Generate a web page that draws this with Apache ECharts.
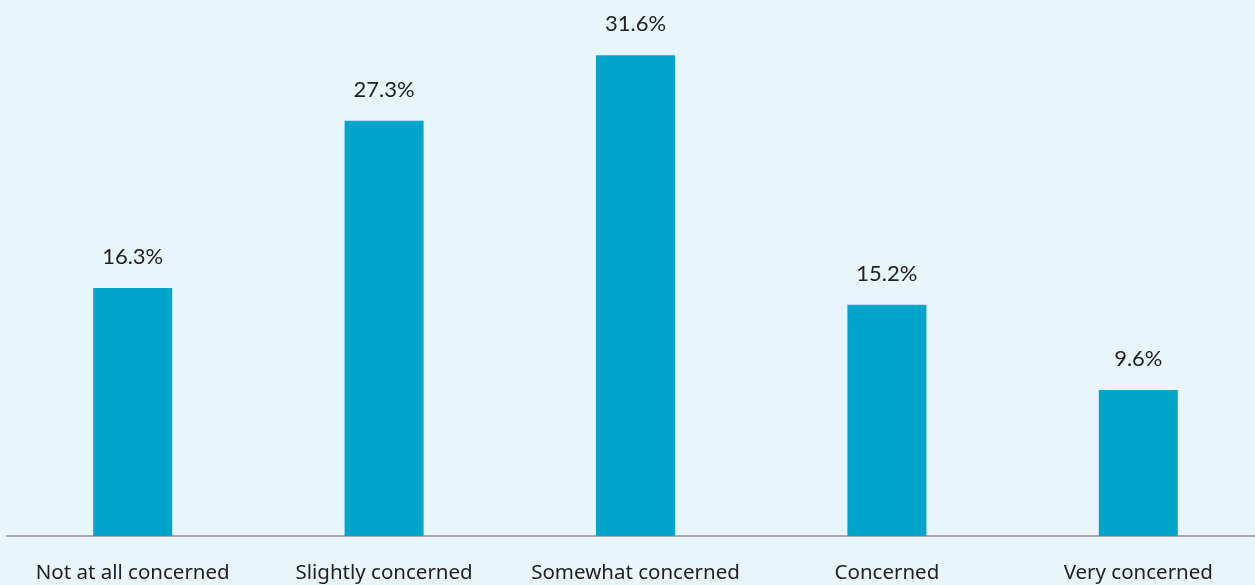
<!DOCTYPE html>
<html>
<head>
<meta charset="utf-8">
<script src="https://cdn.jsdelivr.net/npm/echarts@6/dist/echarts.min.js"></script>
<style>
  html, body { margin: 0; padding: 0; background: #e8f5fb; overflow: hidden; }
  #chart { width: 1264px; height: 585px; }
</style>
</head>
<body>
<div id="chart"></div>
<script>
const categories = ['Not at all concerned', 'Slightly concerned', 'Somewhat concerned', 'Concerned', 'Very concerned']
const shares = [16.3, 27.3, 31.6, 15.2, 9.6]

const chart = echarts.init(document.getElementById('chart'))

chart.setOption({
  backgroundColor: '#e8f5fb',
  animation: false,
  grid: { left: 7, right: 0, top: 3.5, bottom: 49, containLabel: false },
  xAxis: {
    type: 'category',
    data: categories,
    axisLine: { lineStyle: { color: '#a9a9a9', width: 2 } },
    axisTick: { show: false },
    axisLabel: {
      interval: 0,
      color: '#222',
      fontSize: 20.5,
      fontFamily: 'Noto Sans',
      margin: 27
    }
  },
  yAxis: {
    type: 'value',
    min: 0,
    max: 35,
    show: false,
    splitLine: { show: false }
  },
  series: [{
    type: 'bar',
    data: shares,
    barWidth: 79,
    itemStyle: { color: '#00a6c9' },
    label: {
      show: true,
      position: 'top',
      distance: 20,
      color: '#222',
      fontSize: 22,
      fontFamily: 'Lato',
      formatter: p => p.value.toFixed(1) + '%'
    }
  }]
})
</script>
</body>
</html>
